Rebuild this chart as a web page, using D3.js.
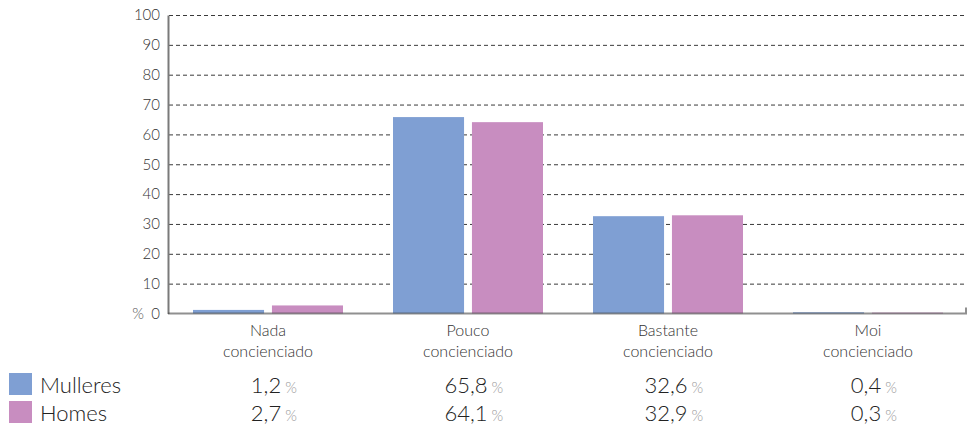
<!DOCTYPE html>
<html>
<head>
<meta charset="utf-8">
<script src="https://cdn.jsdelivr.net/npm/d3@7"></script>
<style>
  html, body { margin: 0; padding: 0; background: #fff; }
  svg { display: block; font-family: Lato, "Open Sans", sans-serif; font-weight: 300; }
</style>
</head>
<body>
<svg id="chart" width="968" height="428"></svg>
<script>
// Awareness levels by sex (%)
const categories = [["Nada", "concienciado"], ["Pouco", "concienciado"], ["Bastante", "concienciado"], ["Moi", "concienciado"]];
const seriesNames = ["Mulleres", "Homes"];
const mulleres = [1.2, 65.8, 32.6, 0.4];
const homes = [2.7, 64.1, 32.9, 0.3];
const seriesColors = ["#7f9fd3", "#c88dc0"];
const yTicks = [0, 10, 20, 30, 40, 50, 60, 70, 80, 90, 100];

const values = [mulleres, homes];
const fmt = v => v.toFixed(1).replace(".", ",");
const font = "Lato, 'Open Sans', sans-serif";

const svg = d3.select("#chart");
const plotLeft = 168, plotRight = 968, plotTop = 15, plotBottom = 313.5;

const x0 = d3.scaleBand().domain(d3.range(categories.length)).range([plotLeft, plotRight]).paddingInner(0).paddingOuter(0);
const x1 = d3.scaleBand().domain(d3.range(seriesNames.length)).range([25, x0.bandwidth() - 25]).paddingInner(0.1).paddingOuter(0);
const y = d3.scaleLinear().domain([0, 100]).range([plotBottom, plotTop]);

// dashed gridlines
const grid = svg.append("g").attr("transform", `translate(${plotLeft + 1},0)`)
  .call(d3.axisLeft(y).tickValues(yTicks.filter(t => t > 0)).tickSize(-(plotRight - plotLeft - 4)).tickFormat(""));
grid.select(".domain").remove();
grid.selectAll("line").attr("stroke", "#3a3a3a").attr("stroke-width", 1).attr("stroke-dasharray", "4,3");

// y axis
const yAxis = svg.append("g").attr("transform", `translate(${plotLeft},0)`)
  .call(d3.axisLeft(y).tickValues(yTicks).tickSize(0).tickPadding(8));
yAxis.select(".domain").attr("stroke", "#7a7a7a").attr("stroke-width", 2);
yAxis.selectAll("text").attr("font-size", 15).attr("fill", "#333").attr("font-family", font).attr("font-weight", 300);
svg.append("text").attr("x", 138).attr("y", y(0) + 5).attr("text-anchor", "middle")
  .attr("font-size", 15).attr("fill", "#555").text("%");

// bars
const groups = svg.append("g").selectAll("g").data(categories).join("g")
  .attr("transform", (d, i) => `translate(${x0(i)},0)`);
groups.selectAll("rect").data((d, i) => values.map((s, j) => ({ j, v: s[i] }))).join("rect")
  .attr("x", d => x1(d.j)).attr("width", x1.bandwidth())
  .attr("y", d => y(d.v)).attr("height", d => y(0) - y(d.v))
  .attr("fill", d => seriesColors[d.j]);

// baseline with right end tick
svg.append("path")
  .attr("d", `M${plotLeft},${y(0)}H${plotRight - 2}V${y(0) - 6}`)
  .attr("fill", "none").attr("stroke", "rgba(70,70,70,0.6)").attr("stroke-width", 2);

// category labels
const catLabels = svg.append("g").selectAll("text").data(categories).join("text")
  .attr("text-anchor", "middle").attr("font-size", 16).attr("fill", "#333");
catLabels.each(function (d, i) {
  const t = d3.select(this);
  d.forEach((line, k) => t.append("tspan").attr("x", x0(i) + x0.bandwidth() / 2).attr("y", 336 + k * 21).text(line));
});

// legend table
const rowY = [393, 421];
seriesNames.forEach((name, j) => {
  svg.append("rect").attr("x", 9).attr("y", rowY[j] - 20).attr("width", 23).attr("height", 22).attr("fill", seriesColors[j]);
  svg.append("text").attr("x", 40).attr("y", rowY[j]).attr("font-size", 22).attr("fill", "#222").text(name);
  values[j].forEach((v, i) => {
    const cx = x0(i) + x0.bandwidth() / 2;
    const num = svg.append("text").attr("x", cx - 2).attr("y", rowY[j]).attr("text-anchor", "middle")
      .attr("font-size", 22).attr("fill", "#222").text(fmt(v));
    const w = num.node().getComputedTextLength();
    svg.append("text").attr("x", cx - 2 + w / 2 + 4).attr("y", rowY[j])
      .attr("font-size", 15).attr("fill", "#999").text("%");
  });
});
</script>
</body>
</html>
